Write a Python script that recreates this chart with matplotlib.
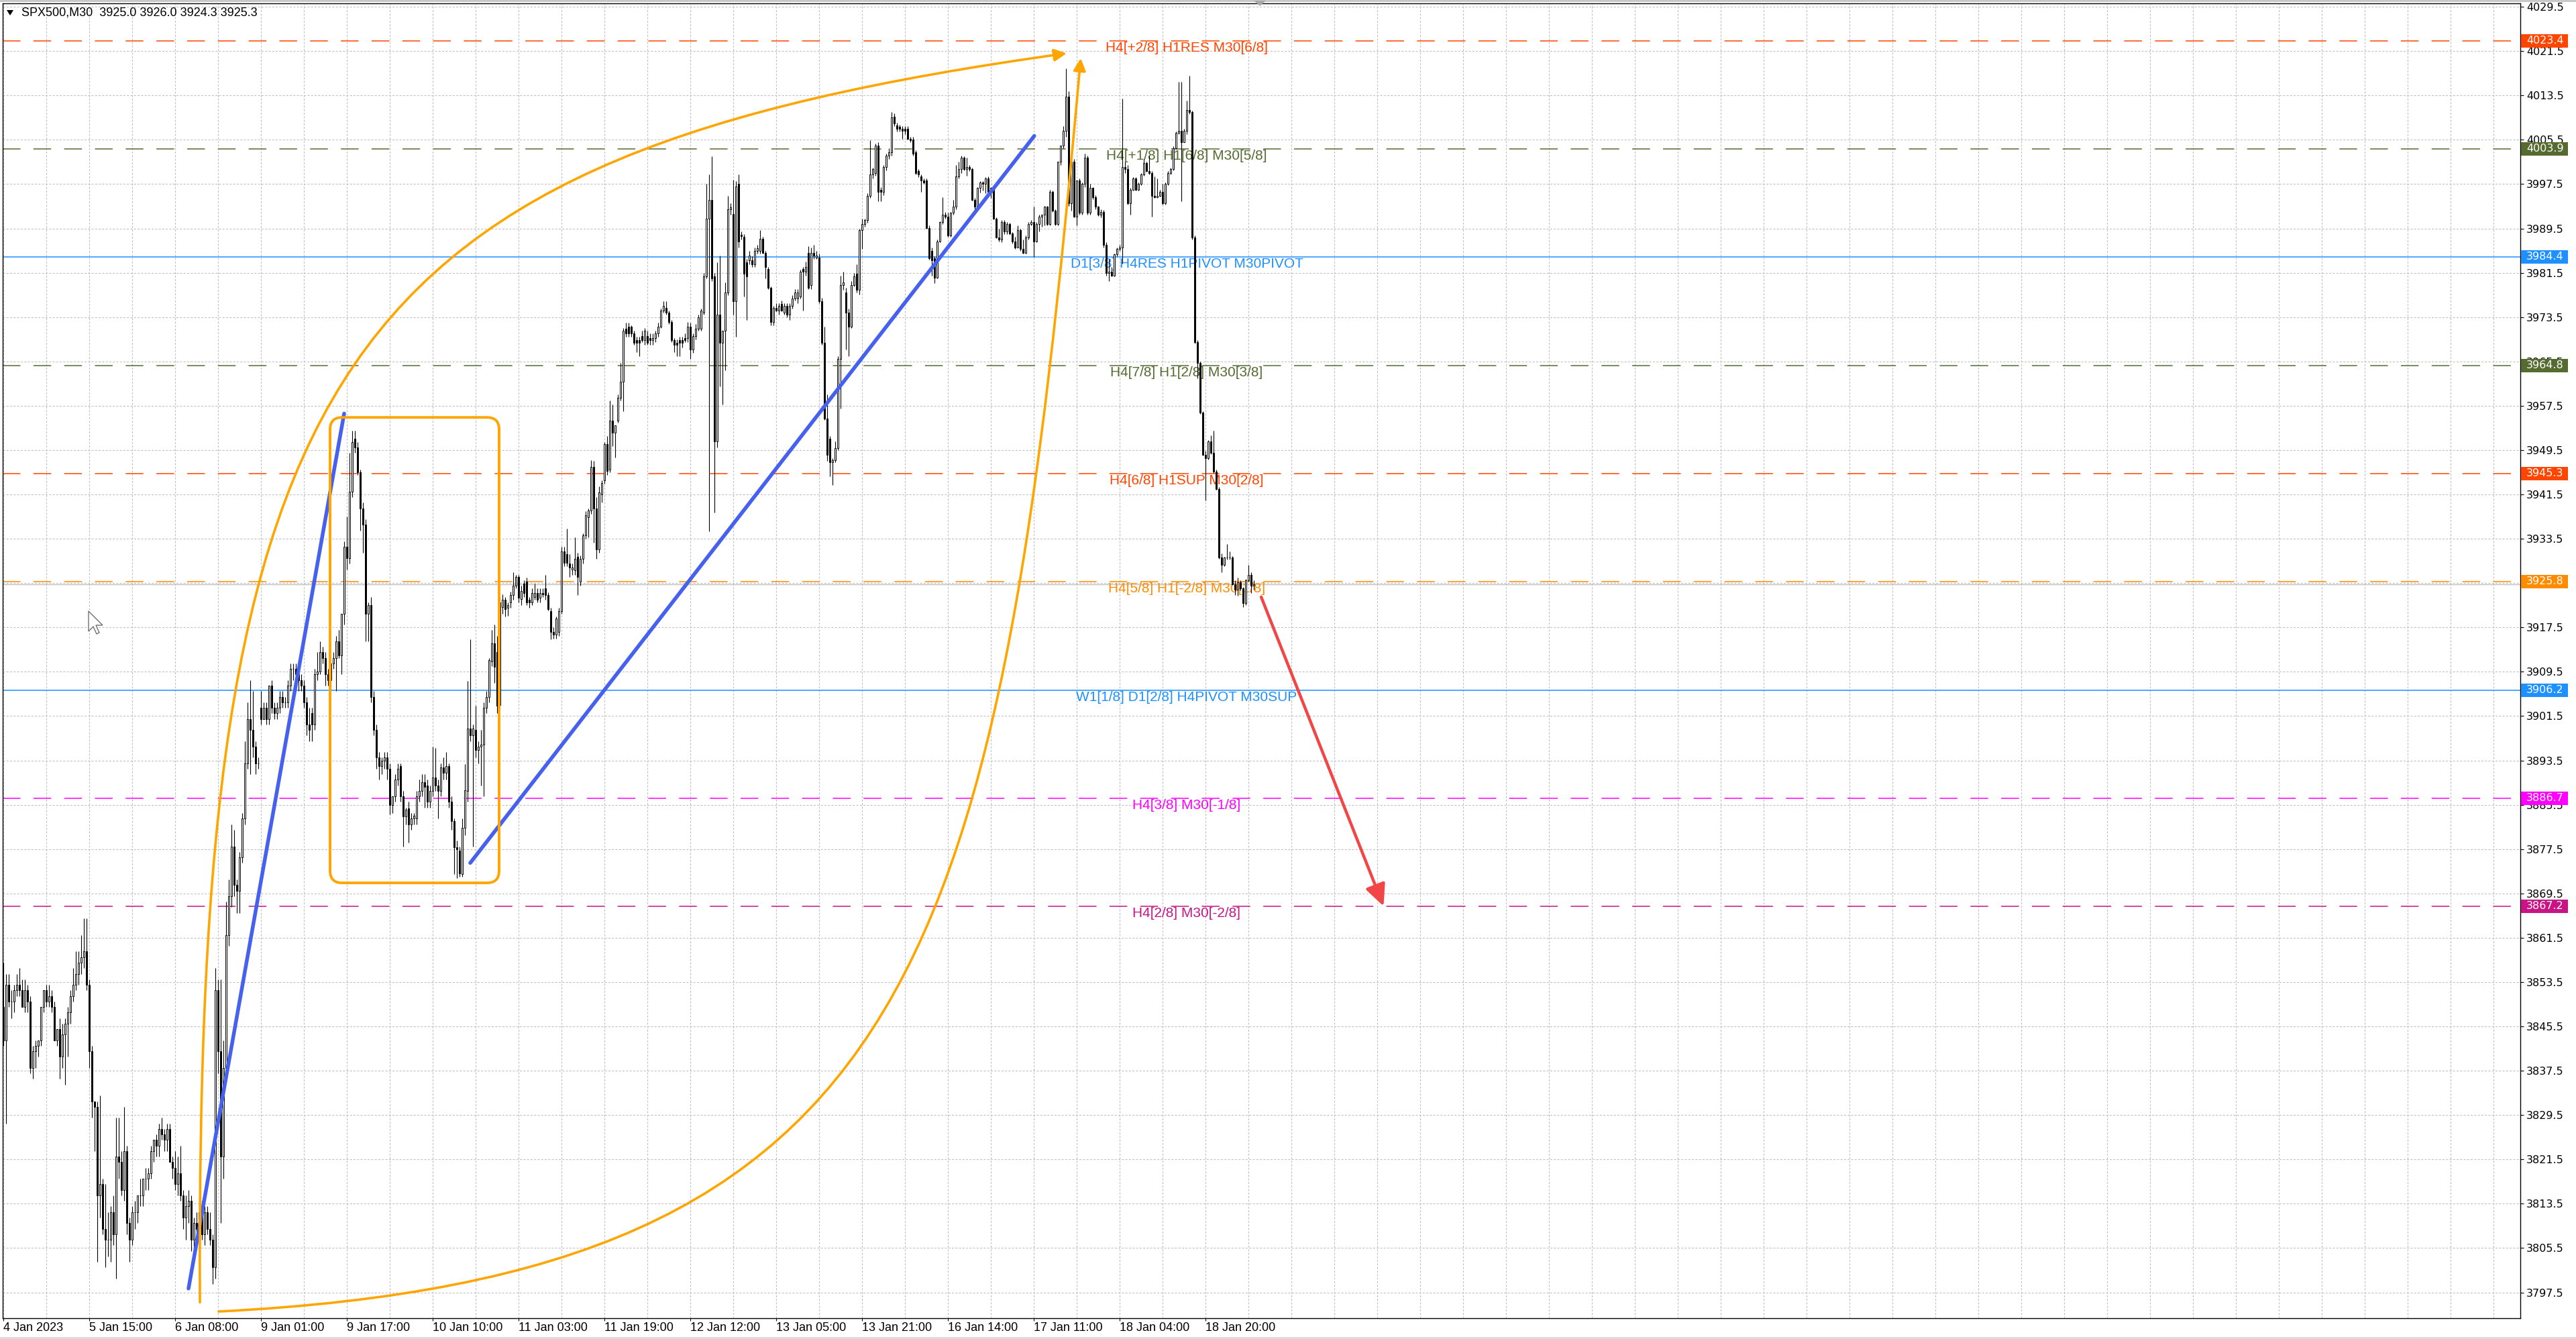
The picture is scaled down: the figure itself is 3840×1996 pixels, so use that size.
import matplotlib
matplotlib.use("Agg")
import matplotlib.pyplot as plt
import matplotlib.transforms as mtransforms
from matplotlib.patches import FancyBboxPatch, FancyArrowPatch, Rectangle, Polygon
from matplotlib.path import Path

plt.rcParams["lines.scale_dashes"] = False

# --- SPX500 M30 bars (index 0 = 4 Jan 2023) ---
opens = [
    3849, 3843, 3853, 3850, 3850, 3852, 3853, 3852, 3849, 3852,  # 0
    3850, 3838, 3841, 3842, 3843, 3849, 3852, 3850, 3851, 3849,  # 10
    3843, 3845, 3840, 3844, 3846, 3848, 3851, 3853, 3855, 3857,  # 20
    3858, 3859, 3853, 3841, 3832, 3831, 3815, 3817, 3809, 3807,  # 30
    3807, 3812, 3808, 3822, 3821, 3816, 3823, 3810, 3807, 3812,  # 40
    3812, 3815, 3815, 3818, 3818, 3819, 3823, 3825, 3824, 3827,  # 50
    3826, 3825, 3827, 3821, 3820, 3817, 3819, 3815, 3811, 3813,  # 60
    3814, 3807, 3810, 3809, 3812, 3808, 3812, 3809, 3807, 3802,  # 70
    3852, 3841, 3822, 3838, 3862, 3869, 3878, 3871, 3870, 3876,  # 80
    3883, 3893, 3901, 3899, 3896, 3893, 3903, 3901, 3903, 3901,  # 90
    3907, 3903, 3902, 3903, 3905, 3904, 3904, 3907, 3910, 3910,  # 100
    3909, 3908, 3907, 3904, 3900, 3902, 3900, 3909, 3909.5, 3913,  # 110
    3912, 3909, 3908, 3911, 3912, 3915, 3912.5, 3920, 3932, 3930,  # 120
    3942, 3951.5, 3950, 3945.5, 3939, 3936, 3920, 3921.5, 3905, 3899,  # 130
    3894, 3892.5, 3893.5, 3894, 3892, 3885.4, 3887, 3890, 3892.5, 3887,  # 140
    3883.4, 3884.9, 3882, 3883, 3883, 3887, 3888, 3889.6, 3889, 3886,  # 150
    3888, 3890.4, 3889, 3888, 3892.2, 3891.3, 3892.5, 3886, 3882.5, 3877.8,  # 160
    3877.2, 3873, 3881.3, 3888, 3899.3, 3898, 3899, 3895.4, 3896, 3896.3,  # 170
    3903, 3904.9, 3911.3, 3914.6, 3913, 3903.5, 3921.2, 3922.5, 3921, 3922,  # 180
    3923.3, 3925, 3926.6, 3922.6, 3925.4, 3925.8, 3922.5, 3922, 3923, 3923.7,  # 190
    3922.9, 3923.7, 3924.5, 3923.3, 3920.4, 3916.7, 3916.2, 3916.7, 3920.4, 3931.2,  # 200
    3930.7, 3929, 3928, 3927.8, 3930.3, 3925.8, 3929.9, 3934.1, 3937.4, 3938.6,  # 210
    3946.5, 3939, 3931.6, 3941.5, 3944, 3950.6, 3946, 3954.8, 3952.7, 3954.8,  # 220
    3958.9, 3961.8, 3971.4, 3971.8, 3971.8, 3970.5, 3969.3, 3969.3, 3970.1, 3969.3,  # 230
    3970.1, 3969.7, 3969.3, 3969.7, 3970.5, 3971.8, 3974.7, 3975.1, 3974.3, 3972.6,  # 240
    3969.3, 3968.9, 3969.3, 3969.3, 3969.7, 3969.7, 3971.8, 3967.6, 3970.1, 3971.4,  # 250
    3971.4, 3974.3, 3980.9, 3991.3, 3994.6, 3980.9, 3951.1, 3973.9, 3968.9, 3971,  # 260
    3978, 3993, 3992.1, 3976.4, 3997.5, 3988.4, 3988, 3983.4, 3983.8, 3983.8,  # 270
    3983, 3985.5, 3985.5, 3987.6, 3985.1, 3982.2, 3978.8, 3972.6, 3975.1, 3974.7,  # 280
    3975.9, 3974.3, 3975.5, 3973.9, 3975.5, 3976.8, 3976.8, 3977.2, 3982.2, 3981.7,  # 290
    3985.1, 3979.3, 3985.1, 3984.2, 3984.2, 3976.4, 3968.9, 3955.2, 3951.5, 3947.3,  # 300
    3947.7, 3949.8, 3966, 3979.3, 3978, 3974.3, 3971.8, 3979.3, 3981.3, 3978.4,  # 310
    3989.2, 3990.3, 3991.0, 3995.4, 3999.2, 3999.5, 4004.4, 3996.5, 3996.1, 4000.6,  # 320
    4002.6, 4003.3, 4009.7, 4008.1, 4007.8, 4007.5, 4007.5, 4007.5, 4005.7, 4005.6,  # 330
    4003.3, 3999.9, 3998.9, 3998.2, 3998.2, 3989.6, 3985.5, 3984.1, 3980.6, 3987.2,  # 340
    3990.6, 3992.0, 3991.6, 3988.2, 3992.3, 3993.4, 3998.9, 4000.2, 4002.3, 4000.2,  # 350
    4000.6, 4000.2, 3994.7, 3993.4, 3996.8, 3997.8, 3997.5, 3998.5, 3996.1, 3996.8,  # 360
    3991.3, 3987.9, 3987.5, 3990.6, 3988.9, 3990.3, 3988.6, 3987.2, 3986.1, 3989.2,  # 370
    3985.8, 3985.1, 3987.9, 3990.3, 3990.6, 3987.2, 3990.3, 3991.6, 3992.0, 3993.4,  # 380
    3990.3, 3996.1, 3992.7, 3990.3, 4001.6, 4004.4, 4007.1, 4013.3, 3994.0, 4001.6,  # 390
    3991.6, 3998.2, 3992.3, 3997.5, 4002.3, 3992.3, 3996.8, 3995.1, 3993.4, 3992.0,  # 400
    3992.5, 3986.5, 3981.5, 3981.7, 3981.0, 3984.8, 3985.8, 3986.1, 4000.6, 4000.2,  # 410
    3994.0, 3996.5, 3998.5, 3996.5, 3997.5, 3999.2, 4001.3, 3999.9, 3999.5, 3995.4,  # 420
    3995.1, 3995.4, 3996.1, 3994.0, 3997.5, 3999.5, 4000.2, 4004.0, 4006.8, 4007.1,  # 430
    4005.1, 4007.1, 4010.9, 4010.5, 3987.9, 3969.0, 3965.2, 3956.3, 3948.7, 3948.0,  # 440
    3951.1, 3949.0, 3945.6, 3942.5, 3930.1, 3928.8, 3930.1, 3930.1, 3930.1, 3925.3,  # 450
    3924.3, 3925.7, 3924.6, 3921.9, 3926.0, 3927.0, 3925.0,  # 460
]
highs = [
    3857, 3855, 3855, 3852, 3853, 3855, 3856, 3854, 3854, 3853,
    3851, 3842, 3843, 3843, 3849, 3852, 3853, 3853, 3852, 3850,
    3845, 3847, 3846, 3847, 3849, 3852, 3856, 3859, 3859, 3862,
    3865, 3865, 3854, 3842, 3832, 3832, 3833, 3818, 3817, 3812,
    3813, 3815, 3829, 3829, 3823, 3831, 3824, 3811, 3813, 3814,
    3815, 3818, 3818, 3820, 3820, 3824, 3825, 3826, 3828, 3829,
    3827, 3828, 3828, 3822, 3823, 3822, 3824, 3816, 3815, 3816,
    3815, 3811, 3812, 3815, 3814, 3813, 3813, 3812, 3808, 3856,
    3854, 3854, 3843, 3868, 3872, 3882, 3881, 3872, 3877, 3884,
    3897, 3904, 3908, 3906, 3897, 3894, 3906, 3904, 3904, 3907,
    3908, 3904, 3904, 3906, 3906, 3905, 3908, 3911, 3911, 3911,
    3910, 3909, 3908, 3905, 3903, 3903, 3910, 3913, 3915, 3914,
    3913, 3910, 3911, 3913, 3916, 3917, 3920, 3933, 3937.5, 3949,
    3953, 3953, 3951, 3946, 3940, 3937, 3922, 3923, 3906, 3900,
    3895, 3894, 3895, 3895, 3893, 3887, 3891, 3893, 3893, 3888,
    3885, 3886, 3884, 3884, 3888, 3890, 3891, 3891, 3890, 3889,
    3896, 3895.7, 3890, 3893, 3894, 3895, 3893, 3887, 3883, 3879,
    3878, 3883, 3892.8, 3907.8, 3915.4, 3900, 3903.4, 3897, 3899, 3904,
    3906, 3912, 3917, 3918, 3916, 3923, 3923.5, 3923, 3922, 3924,
    3927.4, 3927, 3927, 3925, 3926, 3926.5, 3923, 3924.5, 3925.4, 3924.5,
    3924.5, 3924.5, 3927, 3923.8, 3921, 3917.5, 3919.5, 3921, 3932, 3932,
    3935.3, 3930.7, 3929, 3933.7, 3931, 3930.5, 3934.5, 3938.5, 3939, 3947.7,
    3947.5, 3941, 3943, 3944, 3951, 3952, 3958.5, 3957.7, 3954, 3959.5,
    3965.2, 3971.5, 3972.5, 3972.5, 3972, 3971, 3970, 3970, 3971, 3971.5,
    3971, 3970.5, 3970.5, 3971, 3972.5, 3975, 3976.4, 3976.4, 3974.7, 3973,
    3969.7, 3969.5, 3970, 3970, 3970.5, 3972.6, 3972.5, 3970.5, 3972.2, 3974,
    3975, 3981.5, 3997.5, 3999.2, 4002.5, 3981.5, 3983.4, 3984.6, 3971, 3979.7,
    3995.4, 3994, 3998.3, 3998, 3999.2, 3989, 3988.5, 3984, 3985.5, 3984.5,
    3986, 3986.5, 3989.2, 3988, 3985.5, 3982.5, 3979, 3975.5, 3976, 3976,
    3976.5, 3976, 3976, 3976, 3977.5, 3978.5, 3978.5, 3982, 3982.6, 3983.5,
    3986.3, 3986, 3986.5, 3985.5, 3985, 3977, 3971.8, 3959.5, 3952, 3948,
    3951.1, 3966.5, 3981, 3981.7, 3978.8, 3975, 3980, 3981.5, 3983, 3989.5,
    3991.3, 3991.2, 3995.8, 4005.4, 4000.5, 4004.8, 4005, 3997, 4001, 4003,
    4004, 4010.5, 4010.3, 4008.6, 4008.2, 4008, 4008, 4008, 4006, 4006,
    4003.6, 4000.2, 3999.2, 3998.5, 3998.5, 3990, 3986, 3984.5, 3987.5, 3990.8,
    3995.1, 3992.5, 3992.3, 3992.5, 3994.7, 4000.9, 4001.6, 4002.6, 4002.5, 4002.3,
    4001, 4000.5, 3995, 3997, 3998, 3998, 3998.8, 3998.9, 3997, 3997,
    3991.5, 3989.5, 3991, 3991, 3990.6, 3990.5, 3988.8, 3988, 3990, 3989.4,
    3987.5, 3988.2, 3990.6, 3991, 3993.4, 3990.6, 3992, 3992, 3993.5, 3993.6,
    3996.5, 3996.3, 3993, 4001.6, 4004.5, 4008, 4018.4, 4014.3, 4002.3, 4002,
    3998.2, 3998.5, 3997.8, 4003, 4002.6, 3997.5, 3997, 3995.5, 3993.6, 3993,
    3992.8, 3987, 3984, 3982.5, 3985, 3986, 3986.5, 4012.9, 4001.5, 4001,
    3996.8, 3998.8, 3998.8, 3997.8, 3999.5, 4002, 4001.6, 4002.6, 3999.8, 3998.9,
    3998.5, 3996.5, 3997.5, 3997.8, 3999.8, 4000.5, 4004.3, 4007, 4016.0, 4016.0,
    4007.5, 4012.6, 4017.1, 4010.8, 3988.2, 3969.3, 3965.5, 3956.5, 3949.4, 3951.3,
    3952.1, 3953, 3946, 3942.8, 3930.8, 3930.3, 3932.5, 3931.2, 3930.4, 3926,
    3926.5, 3926, 3924.8, 3926.3, 3928.8, 3927.5, 3926.0,
]
lows = [
    3842, 3828, 3849, 3847, 3848, 3851, 3851, 3849, 3848, 3848,
    3837, 3836, 3838, 3840, 3842, 3848, 3849, 3849, 3848, 3843,
    3842, 3836, 3838, 3835, 3840, 3846, 3850, 3852, 3853, 3855,
    3856, 3852, 3838, 3829, 3823, 3803, 3811, 3808, 3802, 3804,
    3803, 3806, 3800, 3818, 3815, 3814, 3808, 3803, 3806, 3809,
    3810, 3813, 3813, 3816, 3816, 3818, 3821, 3822, 3822, 3825,
    3823, 3823, 3821, 3818, 3816, 3815, 3814, 3809, 3807, 3810,
    3805, 3804, 3808, 3806, 3807, 3806, 3808, 3806, 3799, 3800,
    3837, 3810, 3818, 3836, 3860, 3867, 3869, 3866, 3866, 3875,
    3882, 3892, 3891, 3894, 3891, 3892, 3900, 3901, 3900, 3900,
    3902, 3901, 3901, 3902, 3903, 3903, 3903, 3906, 3908, 3908,
    3906, 3906, 3903, 3898, 3897, 3897, 3899, 3908, 3909, 3911,
    3907, 3907, 3906, 3910, 3906, 3912, 3909, 3918, 3928, 3929,
    3941, 3949, 3945, 3935, 3931, 3915, 3915, 3904, 3898, 3892,
    3890, 3891, 3892, 3890, 3883.7, 3884, 3886, 3889, 3886, 3878,
    3882, 3878.7, 3881, 3882, 3882, 3886, 3887, 3885, 3885, 3885,
    3887, 3888, 3883, 3887, 3890, 3890, 3885, 3881, 3873, 3872.2,
    3872.5, 3872.5, 3880, 3886, 3897, 3878, 3894, 3893, 3889, 3887,
    3902, 3904, 3910.5, 3907.5, 3902, 3903, 3920, 3919.5, 3919.6, 3921,
    3922.5, 3924.5, 3922, 3921.5, 3923, 3921.5, 3921, 3921.5, 3922.5, 3922,
    3922, 3923, 3922.5, 3920.5, 3915.4, 3915.5, 3915.5, 3916, 3920, 3928.5,
    3928.5, 3926.6, 3927, 3927, 3923.3, 3925, 3929, 3933.5, 3933.7, 3938,
    3932.8, 3929.9, 3931, 3940, 3943.5, 3945, 3945.5, 3950.2, 3948.2, 3954.5,
    3958.5, 3956.5, 3970, 3970, 3970, 3968.5, 3967.2, 3966.4, 3969, 3968.5,
    3968.5, 3968.5, 3968.5, 3969, 3970, 3971.5, 3974.3, 3974, 3972.3, 3969,
    3967.2, 3966.4, 3966.4, 3968, 3969, 3969, 3966, 3967, 3969.5, 3971,
    3971, 3974, 3980.5, 3934.9, 3980, 3938.2, 3950, 3961, 3957.7, 3963.9,
    3977.5, 3992, 3973.9, 3970, 3986, 3987.5, 3977.2, 3973, 3983, 3982.5,
    3982.5, 3985, 3985, 3985, 3980.5, 3978.5, 3972, 3972, 3974.5, 3974,
    3974.5, 3974, 3973.5, 3973, 3975, 3976.5, 3976, 3976.8, 3974.7, 3981,
    3978.5, 3978.5, 3984, 3984, 3976, 3968.5, 3955, 3947.5, 3944.8, 3943.2,
    3947.3, 3949.5, 3957, 3978.4, 3967.6, 3966.4, 3971.5, 3979, 3978, 3977.6,
    3985.8, 3989.8, 3990.5, 3995, 3998.5, 3999, 3994.4, 3994.4, 3995.5, 4000,
    4002, 4002.6, 4008, 4007, 4007, 4005.7, 4006.5, 4005.5, 4005, 4002.6,
    3999.3, 3998.8, 3996.1, 3997.5, 3989.4, 3983.9, 3981, 3979.6, 3980.5, 3987,
    3990.3, 3991.3, 3988, 3988, 3992, 3993, 3998.5, 3999.5, 4000, 3999,
    3999.8, 3994.5, 3993, 3993, 3996, 3996.4, 3995.8, 3995.8, 3995, 3991.1,
    3987.7, 3987.2, 3987, 3988.5, 3988.5, 3988.4, 3986.8, 3985.8, 3986, 3985.5,
    3985, 3985, 3987.5, 3990, 3984.4, 3987, 3989, 3989.8, 3990, 3990,
    3990, 3992.5, 3990, 3990, 4001, 4004, 4006, 3993.5, 3992.7, 3991.5,
    3990, 3992, 3992, 3997, 3992, 3992, 3994.8, 3993, 3991.8, 3991.5,
    3986, 3981, 3980, 3980.8, 3980.8, 3984.5, 3985.5, 3983.1, 3999.5, 3993.8,
    3992, 3996.3, 3996.3, 3996.3, 3997.3, 3999, 3999.7, 3999.3, 3991.6, 3995,
    3995, 3995.2, 3993.8, 3993.8, 3997.3, 3999.3, 4000, 4003.8, 4006.5, 3994.4,
    4005, 4006.5, 4010.2, 3987.5, 3968.8, 3962.4, 3956, 3948.5, 3940.4, 3947.8,
    3948.8, 3945.4, 3942.3, 3929.9, 3927.4, 3928.6, 3929.8, 3929.8, 3925.1, 3923.3,
    3923.2, 3924.2, 3921.2, 3921.5, 3925.8, 3923.7, 3924.3,
]
closes = [
    3843, 3853, 3850, 3850, 3852, 3853, 3852, 3849, 3852, 3850,
    3838, 3841, 3842, 3843, 3849, 3852, 3850, 3851, 3849, 3843,
    3845, 3840, 3844, 3846, 3848, 3851, 3853, 3855, 3857, 3858,
    3859, 3853, 3841, 3832, 3831, 3815, 3817, 3809, 3807, 3807,
    3812, 3808, 3822, 3821, 3816, 3823, 3810, 3807, 3812, 3812,
    3815, 3815, 3818, 3818, 3819, 3823, 3825, 3824, 3827, 3826,
    3825, 3827, 3821, 3820, 3817, 3819, 3815, 3811, 3813, 3814,
    3807, 3810, 3809, 3812, 3808, 3812, 3809, 3807, 3802, 3852,
    3841, 3822, 3838, 3862, 3869, 3878, 3871, 3870, 3876, 3883,
    3893, 3901, 3899, 3896, 3893, 3893, 3901, 3903, 3901, 3907,
    3903, 3902, 3903, 3905, 3904, 3904, 3907, 3910, 3910, 3909,
    3908, 3907, 3904, 3900, 3899, 3900, 3909, 3909.5, 3913, 3912,
    3909, 3908, 3911, 3912, 3915, 3912.5, 3920, 3932, 3930, 3942,
    3951, 3950, 3945.5, 3939, 3936, 3920, 3921.5, 3905, 3899, 3894,
    3892.5, 3893.4, 3894, 3892, 3885.4, 3887, 3890, 3892, 3887, 3883.4,
    3884.6, 3882, 3883, 3883.5, 3887, 3888, 3889.6, 3888.7, 3886, 3888,
    3890.4, 3889, 3888, 3892.2, 3891.3, 3892.5, 3886, 3882.5, 3877.8, 3877.5,
    3873.1, 3881.3, 3888.1, 3899.3, 3898.1, 3899.3, 3895.4, 3896, 3896.3, 3903,
    3904.9, 3911.6, 3914.6, 3910.4, 3903.4, 3922, 3922.5, 3920.8, 3921.5, 3923.3,
    3925, 3926.6, 3922.9, 3924.1, 3923.7, 3922, 3922, 3923.7, 3923.7, 3922.5,
    3923.7, 3923.5, 3923.3, 3920.8, 3916.7, 3916.2, 3919.1, 3920.4, 3931.2, 3929.1,
    3929.1, 3928.3, 3928.3, 3929.9, 3926.6, 3929.9, 3934.1, 3937.8, 3938.6, 3946.5,
    3939, 3931.6, 3941.9, 3943.6, 3950.6, 3945.7, 3954.8, 3952.7, 3954, 3958.9,
    3961.8, 3971, 3970.5, 3970.5, 3970.5, 3968.9, 3968.9, 3968.9, 3969.3, 3971,
    3968.9, 3969.3, 3969.7, 3970.5, 3971.8, 3974.7, 3975.5, 3974.3, 3972.6, 3969.3,
    3968.5, 3968.5, 3968.9, 3968.9, 3969.3, 3971.8, 3967.6, 3970.1, 3971.4, 3973.5,
    3974.7, 3980.9, 3991.3, 3994.6, 3980.5, 3951.1, 3973.9, 3968.9, 3971, 3978,
    3993, 3993.3, 3976.4, 3997.1, 3987.1, 3988.1, 3981.3, 3980.9, 3984.6, 3983,
    3985.5, 3985.9, 3987.6, 3985.1, 3982.6, 3978.8, 3972.6, 3975.1, 3974.7, 3975.5,
    3974.7, 3975.5, 3973.9, 3975.5, 3976.8, 3978, 3978, 3981.7, 3981.7, 3982.6,
    3978.8, 3985.1, 3984.6, 3984.6, 3976.4, 3968.9, 3955.2, 3948.6, 3947.3, 3947.7,
    3949.8, 3966, 3979.3, 3979.8, 3974.3, 3971.8, 3979.3, 3980.9, 3978.4, 3989.2,
    3990.3, 3991.0, 3995.4, 3999.2, 4000.2, 4004.4, 3996.1, 3996.1, 4000.6, 4002.6,
    4003.3, 4009.5, 4008.5, 4007.5, 4007.5, 4007.1, 4007.1, 4005.7, 4005.4, 4003.0,
    3999.5, 3999.2, 3998.2, 3997.8, 3989.6, 3984.1, 3983.7, 3980.6, 3987.2, 3990.6,
    3992.0, 3991.6, 3988.2, 3992.3, 3993.4, 3998.9, 4000.2, 4002.3, 4000.2, 4000.6,
    4000.2, 3994.7, 3993.4, 3996.8, 3997.8, 3997.5, 3998.5, 3996.1, 3996.8, 3991.3,
    3987.9, 3987.5, 3990.6, 3988.9, 3990.3, 3988.6, 3987.2, 3986.1, 3989.2, 3985.8,
    3985.1, 3987.9, 3990.3, 3990.6, 3987.2, 3990.3, 3991.6, 3992.0, 3993.4, 3990.3,
    3996.1, 3992.7, 3990.3, 4001.6, 4004.4, 4007.1, 4013.3, 3994.0, 4001.6, 3991.6,
    3998.2, 3992.3, 3997.5, 4002.3, 3992.3, 3996.8, 3995.1, 3993.4, 3992.0, 3992.5,
    3986.5, 3981.5, 3981.7, 3981.0, 3984.8, 3985.8, 3986.1, 4000.6, 4000.2, 3994.0,
    3996.5, 3998.5, 3996.5, 3997.5, 3999.2, 4001.3, 3999.9, 3999.5, 3995.4, 3995.1,
    3995.4, 3996.1, 3994.0, 3997.5, 3999.5, 4000.2, 4004.0, 4006.8, 4007.1, 4005.1,
    4007.1, 4010.9, 4010.5, 3987.9, 3969.0, 3965.2, 3956.3, 3948.7, 3948.0, 3951.1,
    3949.0, 3945.6, 3942.5, 3930.1, 3928.8, 3930.1, 3930.1, 3930.1, 3925.3, 3924.3,
    3925.7, 3924.6, 3921.9, 3926.0, 3927.0, 3925.0, 3925.3,
]

time_labels = ["4 Jan 2023", "5 Jan 15:00", "6 Jan 08:00", "9 Jan 01:00", "9 Jan 17:00",
               "10 Jan 10:00", "11 Jan 03:00", "11 Jan 19:00", "12 Jan 12:00", "13 Jan 05:00",
               "13 Jan 21:00", "16 Jan 14:00", "17 Jan 11:00", "18 Jan 04:00", "18 Jan 20:00"]
bars_per_label = 32
price_ticks = [3797.5 + 8 * k for k in range(30)]

levels = [4023.4, 4003.9, 3984.4, 3964.8, 3945.3, 3925.8, 3906.2, 3886.7, 3867.2]
level_names = ["H4[+2/8] H1RES M30[6/8]", "H4[+1/8] H1[6/8] M30[5/8]",
               "D1[3/8] H4RES H1PIVOT M30PIVOT", "H4[7/8] H1[2/8] M30[3/8]",
               "H4[6/8] H1SUP M30[2/8]", "H4[5/8] H1[-2/8] M30[1/8]",
               "W1[1/8] D1[2/8] H4PIVOT M30SUP", "H4[3/8] M30[-1/8]", "H4[2/8] M30[-2/8]"]
level_colors = ["#FF4500", "#556B2F", "#1E90FF", "#556B2F", "#FF4500",
                "#FF8C00", "#1E90FF", "#FF00FF", "#C71585"]
level_solid = [False, False, True, False, False, False, True, False, False]
bid_price = 3925.3

# drawn objects, in bar index / price units
trend1 = ([69, 127], [3798.2, 3956.1])
trend2 = ([174, 384.2], [3875.0, 4006.2])
box = (121.75, 3871.4, 63.0, 84.0)
arc_a = [(73.25, 3795.7), (71.75, 3965.2), (121.25, 4002.6), (396.25, 4021.1)]
arc_b = [(80.25, 3794.05), (342.75, 3800.5), (371.25, 3856.8), (401.5, 4020.2)]
target = [(468.75, 3923.0), (514.35, 3867.2)]

W, H = 3840, 1996
ax_l, ax_r, ax_t, ax_b = 4, 3757, 5, 1965

fig = plt.figure(figsize=(W / 100, H / 100), dpi=100, facecolor="white")
ax = fig.add_axes([ax_l / W, (H - ax_b) / H, (ax_r - ax_l) / W, (ax_b - ax_t) / H])
ax.set_xlim(-0.25, 938)
ax.set_ylim(3792.84, 4030.12)
for s in ax.spines.values():
    s.set_color("black")
    s.set_linewidth(1.0)

grid_kw = dict(color="#C0C0C0", lw=0.8, ls=(0, (2.2, 1.6)), zorder=1)
for gx in range(0, 938, 16):
    ax.axvline(gx, **grid_kw)
for gy in price_ticks:
    ax.axhline(gy, **grid_kw)

ax.axhline(bid_price, color="#C0C0C0", lw=1.0, zorder=1.5)

for lvl, name, col, solid in zip(levels, level_names, level_colors, level_solid):
    ls = "-" if solid else (0, (19, 14))
    ax.axhline(lvl, color=col, lw=1.1, ls=ls, zorder=2)
    ax.text(441, lvl - 0.15, name, color=col, fontsize=15, family="Liberation Sans",
            ha="center", va="top", zorder=2.2)

# candles
n = len(closes)
xs = list(range(n))
ax.vlines(xs, lows, highs, colors="black", lw=0.8, zorder=3)
body_bottom = [min(o, c) for o, c in zip(opens, closes)]
body_height = [abs(c - o) for o, c in zip(opens, closes)]
face = ["white" if c >= o else "black" for o, c in zip(opens, closes)]
ax.bar(xs, body_height, bottom=body_bottom, width=0.72, color=face,
       edgecolor="black", linewidth=0.7, zorder=4)

# drawings
blue = "#4561EE"
orange = "#FFA500"
ax.plot(*trend1, color=blue, lw=4, solid_capstyle="round", zorder=6)
ax.plot(*trend2, color=blue, lw=4, solid_capstyle="round", zorder=6)
ax.add_patch(FancyBboxPatch(box[:2], box[2], box[3],
                            boxstyle="round,pad=0,rounding_size=4.5",
                            mutation_aspect=4 / 8.26, fill=False,
                            edgecolor=orange, lw=2.8, zorder=6))
curve = [Path.MOVETO, Path.CURVE4, Path.CURVE4, Path.CURVE4]
for pts in (arc_a, arc_b):
    ax.add_patch(FancyArrowPatch(path=Path(pts, curve),
                                 arrowstyle="-|>,head_length=0.5,head_width=0.25",
                                 mutation_scale=22, color=orange, lw=2.6, zorder=6))
ax.add_patch(FancyArrowPatch(target[0], target[1],
                             arrowstyle="-|>,head_length=0.7,head_width=0.33",
                             mutation_scale=28, color="#F24545", lw=3.2,
                             shrinkA=0, shrinkB=0, zorder=6))

# axes ticks
ax.yaxis.tick_right()
ax.set_yticks(price_ticks)
ax.set_yticklabels([f"{p:.1f}" for p in price_ticks], fontsize=11.5, family="DejaVu Sans")
ax.tick_params(axis="y", length=3.5, width=0.8, pad=3)
ax.set_xticks([k * bars_per_label for k in range(len(time_labels))])
ax.set_xticklabels(time_labels, fontsize=13, family="Liberation Sans")
for lab in ax.get_xticklabels():
    lab.set_horizontalalignment("left")
ax.tick_params(axis="x", length=3, width=0.8, pad=1)

# price tags on the scale
tag_tr = mtransforms.blended_transform_factory(ax.transAxes, ax.transData)
ax_w = ax_r - ax_l
for lvl, col in zip(levels, level_colors):
    ax.add_patch(Rectangle((1 + 1 / ax_w, lvl - 1.21), 70 / ax_w, 2.42, transform=tag_tr,
                           facecolor=col, edgecolor="none", clip_on=False, zorder=10))
    ax.text(1 + 9 / ax_w, lvl, f"{lvl:.1f}", transform=tag_tr, color="white",
            fontsize=11.5, family="DejaVu Sans", ha="left", va="center",
            clip_on=False, zorder=11)

# header and window bits (pixel coordinates)
px = mtransforms.IdentityTransform()
fig.text(32 / W, 1 - 19.5 / H, "SPX500,M30  3925.0 3926.0 3924.3 3925.3",
         fontsize=13, family="Liberation Sans", va="center", ha="left")
fig.add_artist(Polygon([(10, H - 15), (20, H - 15), (15, H - 23)], closed=True,
                       facecolor="black", edgecolor="none", transform=px))
fig.add_artist(Rectangle((0, H - 3), W, 3, facecolor="#C8C8C8", edgecolor="none", transform=px))
fig.add_artist(Rectangle((0, 0), W, 3, facecolor="#DCDCDC", edgecolor="none", transform=px))
fig.add_artist(Polygon([(1869, H - 1), (1887, H - 1), (1878, H - 9)], closed=True,
                       facecolor="#A8A8A8", edgecolor="none", transform=px))
cx, cy = 132, H - 911
cursor = [(0, 0), (0, 30), (7, 23), (12, 34), (16, 32), (11, 21), (21, 21)]
fig.add_artist(Polygon([(cx + dx, cy - dy) for dx, dy in cursor], closed=True,
                       facecolor="white", edgecolor="#707070", lw=1, transform=px))

fig.savefig("out.png", dpi=100, facecolor="white")
